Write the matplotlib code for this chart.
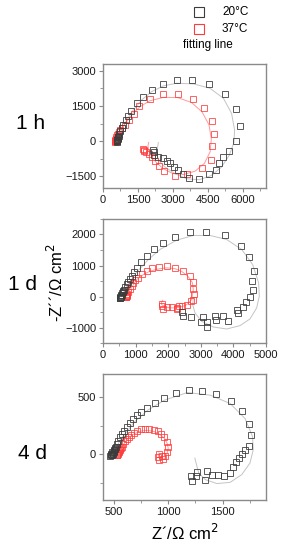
import matplotlib
matplotlib.use("Agg")
import matplotlib.pyplot as plt
from matplotlib.lines import Line2D
from matplotlib.ticker import MultipleLocator

plt.rcParams['font.family'] = ['Liberation Sans', 'DejaVu Sans']

# ---- data (Z' and -Z'' in ohm cm2) ----
# 1 h, 20 C
h1_20_x = [600, 605, 610, 615, 615, 620, 625, 630, 640, 645, 670, 700, 745, 800, 870, 970,
           1090, 1220, 1470, 1700, 2100, 2560, 3160, 3840, 4550, 5230, 5700, 5880, 5700,
           5430, 5170, 4995, 4830, 4530, 4120, 3705, 3420, 3233, 3049, 2877, 2734, 2562,
           2374, 2203, 2160, 2180]
h1_20_y = [-30, 10, 30, 0, 45, 70, 120, 100, 190, 160, 230, 315, 415, 545, 700, 885,
           1070, 1300, 1640, 1900, 2200, 2440, 2615, 2630, 2460, 2030, 1370, 640, 0,
           -420, -665, -915, -1235, -1405, -1600, -1572, -1386, -1243, -1100, -929, -843, -729,
           -671, -570, -386, -450]
h1_20_fit_x = [615, 800, 1016, 1300, 1660, 2090, 2590, 3160, 3880, 4590, 5170, 5520, 5650,
               5620, 5420, 5090, 4665, 4136, 3592, 3091, 2662, 2404, 2318, 2333, 2375]
h1_20_fit_y = [0, 472, 900, 1329, 1758, 2115, 2358, 2472, 2444, 2258, 1829, 1186, 472,
               -57, -600, -1100, -1458, -1643, -1600, -1386, -1100, -843, -600, -314, -57]
# 1 h, 37 C
h1_37_x = [520, 525, 530, 530, 540, 540, 555, 575, 600, 635, 680, 730, 830, 944, 1130, 1340,
           1560, 2020, 2590, 3210, 3860, 4350, 4680, 4750, 4680, 4620, 4260, 3590, 3090,
           2610, 2420, 2240, 2090, 1990, 1850, 1760, 1720, 1780]
h1_37_y = [-20, 20, 40, 0, 80, 50, 110, 180, 250, 320, 400, 470, 580, 686, 900, 1160,
           1500, 1800, 2010, 2020, 1786, 1400, 857, 286, -214, -814, -1129, -1386, -1500,
           -1286, -1060, -850, -675, -560, -460, -360, -330, -420]
h1_37_fit_x = [515, 700, 1000, 1300, 1600, 2000, 2600, 3200, 3800, 4250, 4550, 4650, 4600,
               4350, 3950, 3450, 3000, 2600, 2300, 2080, 1960, 1930, 1960]
h1_37_fit_y = [0, 420, 820, 1200, 1480, 1720, 1870, 1860, 1650, 1250, 700, 100, -450,
               -950, -1280, -1420, -1380, -1180, -920, -650, -400, -200, -50]

# 1 d, 20 C
d1_20_x = [520, 535, 545, 560, 590, 620, 530, 552, 572, 603, 644, 685, 726, 777, 828, 879,
           940, 1032, 1165, 1339, 1564, 1829, 2208, 2667, 3158, 3730, 4221, 4487, 4630,
           4569, 4589, 4507, 4374, 4303, 4129, 4098, 3843, 3690, 3466, 3435, 3178, 3178,
           3056, 2995, 2698, 2443, 2432]
d1_20_y = [-40, -20, 20, 40, 100, 180, -30, -11, 64, 140, 226, 312, 398, 484, 570, 677,
           785, 925, 1107, 1301, 1516, 1731, 1914, 2075, 2075, 1967, 1613, 1258, 817,
           495, 204, -22, -172, -333, -537, -419, -785, -634, -763, -634, -978, -828,
           -656, -806, -656, -613, -505]
d1_20_fit_x = [552, 726, 1032, 1390, 1748, 2259, 2770, 3281, 3792, 4252, 4589, 4773, 4793,
               4711, 4507, 4200, 3792, 3383, 3025, 2821, 2749, 2770]
d1_20_fit_y = [-11, 312, 785, 1193, 1516, 1817, 1967, 1967, 1838, 1516, 1032, 441, 11,
               -366, -720, -935, -1043, -978, -796, -527, -258, -43]
# 1 d, 37 C
d1_37_x = [690, 710, 740, 700, 726, 750, 777, 828, 879, 930, 991, 1073, 1196, 1339, 1502,
           1707, 1962, 2218, 2443, 2667, 2749, 2770, 2790, 2749, 2698, 2565, 2412, 2259,
           2126, 1952, 1809, 1799, 1850, 2259, 2330]
d1_37_y = [-10, 30, 50, -20, 11, 70, 140, 247, 355, 441, 527, 613, 720, 828, 914,
           957, 978, 935, 839, 656, 462, 258, 97, -97, -151, -258, -312, -355,
           -333, -333, -312, -226, -398, -398, -312]
d1_37_fit_x = [700, 850, 1032, 1250, 1441, 1700, 1952, 2200, 2400, 2600, 2740, 2770, 2719,
               2600, 2514, 2350, 2208, 2050, 1901, 1799, 1790, 1830]
d1_37_fit_y = [0, 250, 548, 720, 817, 890, 925, 900, 820, 660, 450, 226, -97,
               -230, -290, -340, -366, -360, -333, -258, -180, -120]

# 4 d, 20 C
d4_20_x = [465, 475, 480, 490, 498, 505, 512, 470, 485, 494, 500, 509, 518, 530, 542, 558,
           576, 594, 618, 651, 679, 709, 751, 806, 879, 964, 1070, 1188, 1312, 1442, 1576,
           1679, 1739, 1757, 1742, 1706, 1676, 1654, 1624, 1600, 1564, 1509, 1455, 1403,
           1358, 1334, 1261, 1252, 1216, 1207]
d4_20_y = [-12, 5, 15, 10, 35, 30, 55, -5, -10, 0, 23, 43, 66, 90, 118, 147,
           176, 205, 234, 269, 303, 338, 365, 399, 448, 494, 535, 558, 555, 526, 462,
           379, 263, 168, 75, 38, 0, -35, -69, -113, -165, -188, -185, -185,
           -150, -223, -159, -194, -237, -194]
d4_20_fit_x = [482, 570, 691, 812, 964, 1176, 1388, 1570, 1706, 1776, 1782, 1752, 1676,
               1570, 1448, 1342, 1281, 1260, 1245]
d4_20_fit_y = [0, 139, 283, 384, 471, 538, 515, 442, 312, 153, 38, -78, -179,
               -246, -257, -223, -165, -92, -35]
# 4 d, 37 C
d4_37_x = [525, 535, 545, 552, 562, 530, 539, 548, 558, 570, 585, 600, 618, 639, 660, 685,
           715, 751, 788, 827, 867, 903, 933, 964, 988, 1000, 988, 970, 948, 918, 903, 918,
           940]
d4_37_y = [-5, 10, 30, 35, 55, -10, 0, 20, 43, 66, 90, 113, 136, 153, 170, 188,
           202, 217, 220, 220, 211, 199, 176, 147, 110, 66, 23, -14, -43, -49, -26, 3,
           -20]
d4_37_fit_x = [524, 580, 630, 690, 751, 810, 873, 925, 964, 990, 1000, 990, 970, 945, 927,
               909, 915]
d4_37_fit_y = [0, 75, 139, 180, 202, 208, 197, 170, 139, 95, 52, 5, -35, -50, -49,
               -14, 10]

panel_names = ['1 h', '1 d', '4 d']

BLACK = '#3c3c3c'
RED = '#ff3b3b'
GRAY_FIT = '#c4c4c4'
RED_FIT = '#ff9a9a'
SPINE = '#8a8a8a'

fig = plt.figure(figsize=(2.87, 5.5), dpi=100)

boxes = [[0.359, 0.658, 0.568, 0.226],
         [0.359, 0.376, 0.568, 0.226],
         [0.359, 0.091, 0.568, 0.229]]
panels = [
    (h1_20_x, h1_20_y, h1_20_fit_x, h1_20_fit_y, h1_37_x, h1_37_y, h1_37_fit_x, h1_37_fit_y),
    (d1_20_x, d1_20_y, d1_20_fit_x, d1_20_fit_y, d1_37_x, d1_37_y, d1_37_fit_x, d1_37_fit_y),
    (d4_20_x, d4_20_y, d4_20_fit_x, d4_20_fit_y, d4_37_x, d4_37_y, d4_37_fit_x, d4_37_fit_y),
]
xlims = [(0, 7000), (0, 5000), (400, 1900)]
ylims = [(-2000, 3300), (-1500, 2500), (-400, 700)]
xsteps = [(1500, 750), (1000, 500), (500, 250)]
ysteps = [(1500, 750), (1000, 500), (500, 250)]
label_y = [0.776, 0.482, 0.176]
label_x = [0.105, 0.08, 0.112]

for i, (bx, by, bfx, bfy, rx, ry, rfx, rfy) in enumerate(panels):
    ax = fig.add_axes(boxes[i])
    ax.plot(bfx, bfy, color=GRAY_FIT, lw=0.7, zorder=1)
    ax.plot(rfx, rfy, color=RED_FIT, lw=0.7, zorder=1)
    ax.plot(bx, by, ls='none', marker='s', ms=4.9, mfc='none', mec=BLACK, mew=0.7,
            alpha=0.85, zorder=3)
    ax.plot(rx, ry, ls='none', marker='s', ms=4.9, mfc='none', mec=RED, mew=0.7,
            alpha=0.8, zorder=2)
    ax.set_xlim(*xlims[i])
    ax.set_ylim(*ylims[i])
    ax.xaxis.set_major_locator(MultipleLocator(xsteps[i][0]))
    ax.xaxis.set_minor_locator(MultipleLocator(xsteps[i][1]))
    ax.yaxis.set_major_locator(MultipleLocator(ysteps[i][0]))
    ax.yaxis.set_minor_locator(MultipleLocator(ysteps[i][1]))
    if i == 2:
        ax.set_yticks([0, 500])
        ax.yaxis.set_minor_locator(MultipleLocator(250))
    for s in ax.spines.values():
        s.set_color(SPINE)
        s.set_linewidth(1.0)
    ax.tick_params(which='major', direction='out', length=3, width=0.8, color=SPINE,
                   labelsize=8, labelcolor='#1a1a1a', pad=2)
    ax.tick_params(which='minor', direction='out', length=2, width=0.6, color=SPINE)
    fig.text(label_x[i], label_y[i], panel_names[i], fontsize=15, ha='center', va='center')
    if i == 2:
        ax.set_xlabel('Z\u00b4/\u03a9 cm$^2$', fontsize=12, labelpad=4)

fig.text(0.195, 0.487, '-Z\u00b4\u00b4/\u03a9 cm$^2$', fontsize=12, rotation=90,
         ha='center', va='center')

# legend
fig.add_artist(Line2D([199 / 287], [1 - 12 / 550], marker='s', ms=7.5, mfc='none',
                      mec=BLACK, mew=0.8, transform=fig.transFigure))
fig.add_artist(Line2D([199 / 287], [1 - 29 / 550], marker='s', ms=7.5, mfc='none',
                      mec=RED, mew=0.8, transform=fig.transFigure))
fig.text(222 / 287, 1 - 12 / 550, '20\u00b0C', fontsize=8.5, va='center')
fig.text(222 / 287, 1 - 29 / 550, '37\u00b0C', fontsize=8.5, va='center')
fig.text(183 / 287, 1 - 45 / 550, 'fitting line', fontsize=8.5, va='center')

fig.savefig('out.png', dpi=100)
